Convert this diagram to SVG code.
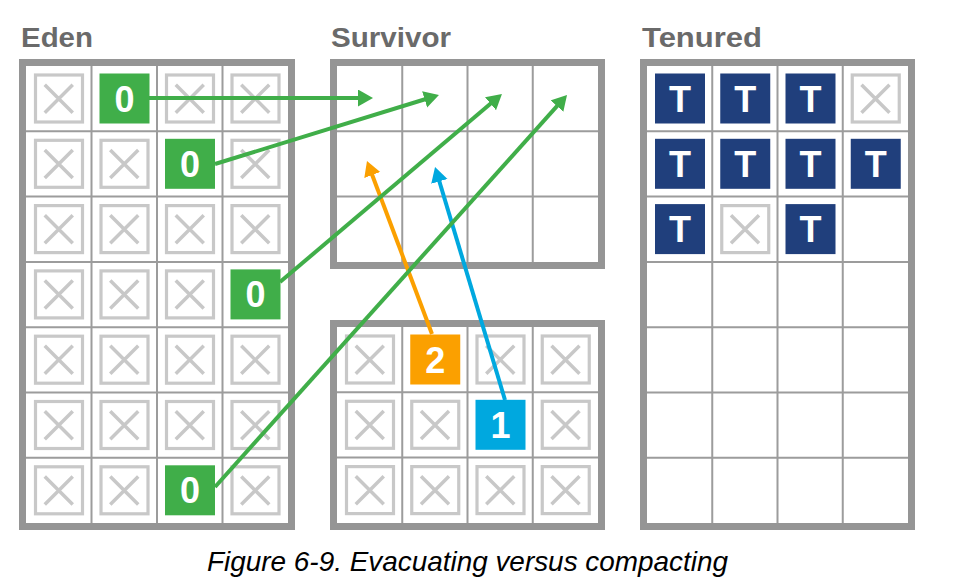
<svg xmlns="http://www.w3.org/2000/svg" xmlns:xlink="http://www.w3.org/1999/xlink" width="969" height="588" viewBox="0 0 969 588">
<style>
.title{font-family:"Liberation Sans",Arial,sans-serif;font-weight:bold;font-size:28px;fill:#6a6a6a}
.frame{fill:#fff;stroke:#959595;stroke-width:7}
.grid{fill:none;stroke:#9c9c9c;stroke-width:2}
.lbl{font-family:"Liberation Sans",Arial,sans-serif;font-weight:bold;font-size:36px;fill:#fff;text-anchor:middle}
.g{fill:#40ae49}
.t{fill:#203f7c}
.o{fill:#fba000}
.c{fill:#00a8df}
.cap{font-family:"Liberation Sans",Arial,sans-serif;font-style:italic;font-size:27.5px;fill:#000}
.ln{fill:none;stroke-width:4}
</style>
<defs>
<g id="xb"><rect x="9.5" y="9" width="47" height="47" fill="#fff" stroke="#c8c8c8" stroke-width="3.2"/><path d="M18.75 18.65 L46.75 46.65 M46.75 18.65 L18.75 46.65" stroke="#c8c8c8" stroke-width="3.5"/></g>
<marker id="ag" markerUnits="userSpaceOnUse" markerWidth="16" markerHeight="18" refX="3" refY="8.5" orient="auto"><path d="M0,0 L15,8.5 L0,17 z" fill="#40ae49"/></marker>
<marker id="ao" markerUnits="userSpaceOnUse" markerWidth="16" markerHeight="18" refX="3" refY="8.5" orient="auto"><path d="M0,0 L15,8.5 L0,17 z" fill="#fba000"/></marker>
<marker id="ac" markerUnits="userSpaceOnUse" markerWidth="16" markerHeight="18" refX="3" refY="8.5" orient="auto"><path d="M0,0 L15,8.5 L0,17 z" fill="#00a8df"/></marker>
</defs>

<text class="title" x="21" y="47" textLength="72" lengthAdjust="spacingAndGlyphs">Eden</text>
<text class="title" x="331" y="47" textLength="120" lengthAdjust="spacingAndGlyphs">Survivor</text>
<text class="title" x="642" y="47" textLength="120" lengthAdjust="spacingAndGlyphs">Tenured</text>

<g id="eden">
<rect class="frame" x="22.5" y="62.5" width="269" height="464"/>
<path class="grid" d="M91.5 66V523M157 66V523M222.5 66V523M26 131.3H288M26 196.6H288M26 261.9H288M26 327.2H288M26 392.5H288M26 457.8H288"/>
<use xlink:href="#xb" x="26" y="66"/><use xlink:href="#xb" x="157" y="66"/><use xlink:href="#xb" x="222.5" y="66"/>
<use xlink:href="#xb" x="26" y="131.3"/><use xlink:href="#xb" x="91.5" y="131.3"/><use xlink:href="#xb" x="222.5" y="131.3"/>
<use xlink:href="#xb" x="26" y="196.6"/><use xlink:href="#xb" x="91.5" y="196.6"/><use xlink:href="#xb" x="157" y="196.6"/><use xlink:href="#xb" x="222.5" y="196.6"/>
<use xlink:href="#xb" x="26" y="261.9"/><use xlink:href="#xb" x="91.5" y="261.9"/><use xlink:href="#xb" x="157" y="261.9"/>
<use xlink:href="#xb" x="26" y="327.2"/><use xlink:href="#xb" x="91.5" y="327.2"/><use xlink:href="#xb" x="157" y="327.2"/><use xlink:href="#xb" x="222.5" y="327.2"/>
<use xlink:href="#xb" x="26" y="392.5"/><use xlink:href="#xb" x="91.5" y="392.5"/><use xlink:href="#xb" x="157" y="392.5"/><use xlink:href="#xb" x="222.5" y="392.5"/>
<use xlink:href="#xb" x="26" y="457.8"/><use xlink:href="#xb" x="91.5" y="457.8"/><use xlink:href="#xb" x="222.5" y="457.8"/>
</g>

<g id="survivor-top">
<rect class="frame" x="333.5" y="62.5" width="268" height="203"/>
<path class="grid" d="M402.25 66V262M467.5 66V262M532.75 66V262M337 131.3H598M337 196.6H598"/>
</g>

<g id="survivor-bottom">
<rect class="frame" x="333.5" y="323.5" width="268" height="203"/>
<path class="grid" d="M402.25 327V523M467.5 327V523M532.75 327V523M337 392.3H598M337 457.6H598"/>
<use xlink:href="#xb" x="337" y="327"/><use xlink:href="#xb" x="467.5" y="327"/><use xlink:href="#xb" x="532.75" y="327"/>
<use xlink:href="#xb" x="337" y="392.3"/><use xlink:href="#xb" x="402.25" y="392.3"/><use xlink:href="#xb" x="532.75" y="392.3"/>
<use xlink:href="#xb" x="337" y="457.6"/><use xlink:href="#xb" x="402.25" y="457.6"/><use xlink:href="#xb" x="467.5" y="457.6"/><use xlink:href="#xb" x="532.75" y="457.6"/>
</g>

<g id="tenured">
<rect class="frame" x="643.5" y="62.5" width="268" height="464"/>
<path class="grid" d="M712.25 66V523M777.5 66V523M842.75 66V523M647 131.3H908M647 196.6H908M647 261.9H908M647 327.2H908M647 392.5H908M647 457.8H908"/>
<use xlink:href="#xb" x="842.75" y="66"/>
<use xlink:href="#xb" x="712.25" y="196.6"/>
</g>

<g id="tenured-objects">
<g id="t1"><rect class="t" x="655" y="73.5" width="50" height="50"/><text class="lbl" x="680" y="111.5">T</text></g>
<g id="t2"><rect class="t" x="720.25" y="73.5" width="50" height="50"/><text class="lbl" x="745.25" y="111.5">T</text></g>
<g id="t3"><rect class="t" x="785.5" y="73.5" width="50" height="50"/><text class="lbl" x="810.5" y="111.5">T</text></g>
<g id="t4"><rect class="t" x="655" y="138.8" width="50" height="50"/><text class="lbl" x="680" y="176.8">T</text></g>
<g id="t5"><rect class="t" x="720.25" y="138.8" width="50" height="50"/><text class="lbl" x="745.25" y="176.8">T</text></g>
<g id="t6"><rect class="t" x="785.5" y="138.8" width="50" height="50"/><text class="lbl" x="810.5" y="176.8">T</text></g>
<g id="t7"><rect class="t" x="850.75" y="138.8" width="50" height="50"/><text class="lbl" x="875.75" y="176.8">T</text></g>
<g id="t8"><rect class="t" x="655" y="204.1" width="50" height="50"/><text class="lbl" x="680" y="242.1">T</text></g>
<g id="t9"><rect class="t" x="785.5" y="204.1" width="50" height="50"/><text class="lbl" x="810.5" y="242.1">T</text></g>
</g>

<g id="connectors">
<path class="ln" stroke="#fba000" marker-end="url(#ao)" d="M432 334 L371.2 172.2"/>
<path class="ln" stroke="#00a8df" marker-end="url(#ac)" d="M505 400 L438.5 178.5"/>
<path class="ln" stroke="#40ae49" marker-end="url(#ag)" d="M149 98 L361 98"/>
<path class="ln" stroke="#40ae49" marker-end="url(#ag)" d="M215 164 L427.5 98.5"/>
<path class="ln" stroke="#40ae49" marker-end="url(#ag)" d="M280 282 L492.8 101.8"/>
<path class="ln" stroke="#40ae49" marker-end="url(#ag)" d="M215 487 L559 103.9"/>
</g>

<g id="e1"><rect class="g" x="99.5" y="73.5" width="50" height="50"/><text class="lbl" x="124.5" y="111.5">0</text></g>
<g id="e2"><rect class="g" x="165" y="138.8" width="50" height="50"/><text class="lbl" x="190" y="176.8">0</text></g>
<g id="e3"><rect class="g" x="230.5" y="269.4" width="50" height="50"/><text class="lbl" x="255.5" y="307.4">0</text></g>
<g id="e4"><rect class="g" x="165" y="465.3" width="50" height="50"/><text class="lbl" x="190" y="503.3">0</text></g>
<g id="s2"><rect class="o" x="410.25" y="334.5" width="50" height="50"/><text class="lbl" x="435.25" y="372.5">2</text></g>
<g id="s1"><rect class="c" x="475.5" y="399.8" width="50" height="50"/><text class="lbl" x="500.5" y="437.8">1</text></g>

<text class="cap" x="207" y="571" textLength="521" lengthAdjust="spacingAndGlyphs">Figure 6-9. Evacuating versus compacting</text>
</svg>
